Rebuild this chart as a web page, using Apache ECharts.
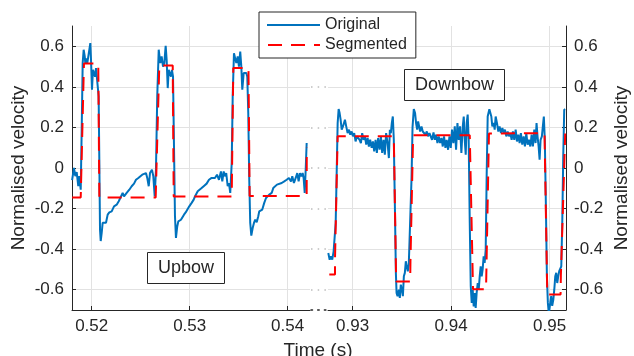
<!DOCTYPE html>
<html>
<head>
<meta charset="utf-8">
<script src="https://cdn.jsdelivr.net/npm/echarts@6/dist/echarts.min.js"></script>
<style>
  html, body { margin: 0; padding: 0; background: #fff; }
  #chart { width: 634px; height: 356px; }
</style>
</head>
<body>
<div id="chart"></div>
<script>
// Upbow section (left panel)
const upbowTime = [0.51800,0.51819,0.51833,0.51847,0.51863,0.51873,0.51888,0.51898,0.51908,0.51918,
  0.51929,0.51935,0.51945,0.51955,0.51965,0.51976,0.51986,0.51993,0.52003,0.52013,
  0.52024,0.52034,0.52044,0.52057,0.52071,0.52078,0.52085,0.52092,0.52102,0.52112,
  0.52129,0.52146,0.52163,0.52180,0.52204,0.52228,0.52255,0.52276,0.52296,0.52316,
  0.52330,0.52357,0.52384,0.52408,0.52432,0.52452,0.52476,0.52493,0.52516,0.52534,
  0.52554,0.52567,0.52582,0.52595,0.52615,0.52629,0.52643,0.52656,0.52669,0.52684,
  0.52690,0.52700,0.52714,0.52728,0.52741,0.52755,0.52765,0.52776,0.52786,0.52799,
  0.52809,0.52819,0.52830,0.52840,0.52850,0.52860,0.52873,0.52884,0.52898,0.52911,
  0.52924,0.52942,0.52959,0.52976,0.52996,0.53020,0.53041,0.53054,0.53071,0.53082,
  0.53098,0.53122,0.53149,0.53173,0.53197,0.53224,0.53241,0.53258,0.53279,0.53299,
  0.53319,0.53333,0.53347,0.53360,0.53373,0.53388,0.53401,0.53414,0.53429,0.53439,
  0.53452,0.53476,0.53490,0.53503,0.53516,0.53527,0.53537,0.53551,0.53564,0.53578,
  0.53588,0.53598,0.53608,0.53618,0.53629,0.53643,0.53656,0.53669,0.53684,0.53700,
  0.53710,0.53724,0.53741,0.53761,0.53779,0.53796,0.53812,0.53837,0.53853,0.53870,
  0.53891,0.53911,0.53939,0.53965,0.53990,0.54013,0.54034,0.54047,0.54064,0.54082,
  0.54098,0.54112,0.54126,0.54139,0.54153,0.54163,0.54174,0.54184,0.54194];
const upbowVel = [-0.06,0.0,-0.04,-0.02,-0.09,-0.04,-0.107,0.19,0.517,0.583,
  0.55,0.517,0.54,0.517,0.525,0.583,0.616,0.533,0.386,0.484,
  0.493,0.45,0.493,0.484,0.353,0.026,-0.304,-0.36,-0.32,-0.27,
  -0.263,-0.27,-0.23,-0.219,-0.214,-0.189,-0.181,-0.164,-0.156,-0.123,
  -0.14,-0.123,-0.107,-0.09,-0.077,-0.058,-0.049,-0.041,-0.033,-0.041,
  -0.025,-0.049,-0.09,-0.025,-0.008,-0.041,-0.14,-0.008,0.353,0.583,
  0.59,0.517,0.55,0.50,0.517,0.602,0.533,0.394,0.484,0.484,
  0.45,0.484,0.45,0.106,-0.238,-0.345,-0.288,-0.263,-0.271,-0.255,
  -0.263,-0.23,-0.219,-0.214,-0.189,-0.172,-0.156,-0.14,-0.148,-0.115,
  -0.123,-0.099,-0.087,-0.077,-0.058,-0.049,-0.041,-0.049,-0.033,-0.058,
  -0.017,-0.066,-0.017,-0.041,-0.025,-0.09,-0.074,-0.123,0.025,0.353,
  0.566,0.517,0.55,0.50,0.574,0.50,0.386,0.468,0.46,0.468,
  0.45,0.271,-0.058,-0.271,-0.333,-0.296,-0.271,-0.255,-0.268,-0.238,
  -0.214,-0.205,-0.205,-0.172,-0.148,-0.156,-0.131,-0.123,-0.099,-0.107,
  -0.082,-0.09,-0.074,-0.066,-0.058,-0.049,-0.066,-0.041,-0.074,-0.049,
  -0.025,-0.066,-0.025,-0.041,-0.025,-0.049,-0.123,-0.008,0.123];
const upbowSegTime = [0.51800,0.51888,0.51921,0.52067,0.52078,0.52653,0.52690,0.52827,
  0.52837,0.53429,0.53445,0.53600,0.53612,0.54194,0.54195];
const upbowSegVel = [-0.145,-0.145,0.515,0.515,-0.145,-0.145,0.505,0.505,
  -0.14,-0.14,0.493,0.493,-0.138,-0.138,0.10];

// Downbow section (right panel)
const downbowTime = [0.92753,0.92767,0.92780,0.92793,0.92807,0.92818,0.92828,0.92838,0.92848,0.92858,
  0.92868,0.92878,0.92889,0.92902,0.92912,0.92922,0.92935,0.92949,0.92963,0.92976,
  0.92990,0.93003,0.93016,0.93030,0.93044,0.93057,0.93071,0.93084,0.93097,0.93111,
  0.93125,0.93138,0.93152,0.93165,0.93178,0.93193,0.93206,0.93219,0.93233,0.93246,
  0.93259,0.93274,0.93287,0.93300,0.93314,0.93327,0.93340,0.93355,0.93368,0.93378,
  0.93388,0.93398,0.93408,0.93418,0.93429,0.93439,0.93446,0.93456,0.93469,0.93479,
  0.93489,0.93500,0.93510,0.93520,0.93530,0.93540,0.93550,0.93560,0.93570,0.93584,
  0.93598,0.93608,0.93621,0.93634,0.93644,0.93655,0.93665,0.93675,0.93685,0.93699,
  0.93712,0.93725,0.93740,0.93753,0.93766,0.93780,0.93793,0.93806,0.93821,0.93834,
  0.93847,0.93861,0.93874,0.93888,0.93902,0.93915,0.93928,0.93942,0.93955,0.93969,
  0.93983,0.93996,0.94009,0.94023,0.94037,0.94050,0.94064,0.94077,0.94090,0.94104,
  0.94118,0.94128,0.94138,0.94148,0.94158,0.94168,0.94178,0.94189,0.94199,0.94209,
  0.94219,0.94229,0.94239,0.94249,0.94259,0.94270,0.94280,0.94290,0.94300,0.94310,
  0.94320,0.94330,0.94340,0.94351,0.94361,0.94371,0.94388,0.94398,0.94408,0.94418,
  0.94432,0.94442,0.94452,0.94465,0.94479,0.94492,0.94506,0.94520,0.94533,0.94546,
  0.94560,0.94574,0.94587,0.94601,0.94614,0.94627,0.94641,0.94655,0.94668,0.94682,
  0.94695,0.94708,0.94722,0.94736,0.94749,0.94763,0.94776,0.94789,0.94804,0.94817,
  0.94830,0.94844,0.94857,0.94867,0.94877,0.94888,0.94898,0.94908,0.94921,0.94931,
  0.94941,0.94951,0.94962,0.94972,0.94982,0.94992,0.95006,0.95016,0.95026,0.95037,
  0.95047,0.95057,0.95067,0.95077,0.95087,0.95097,0.95107,0.95118,0.95128,0.95138,
  0.95148,0.95158];
const downbowVel = [-0.419,-0.452,-0.435,-0.452,-0.411,-0.419,-0.271,-0.025,0.222,0.291,
  0.271,0.238,0.189,0.205,0.197,0.238,0.205,0.172,0.189,0.164,
  0.18,0.156,0.172,0.131,0.156,0.164,0.139,0.123,0.172,0.139,
  0.156,0.115,0.148,0.106,0.139,0.099,0.131,0.082,0.139,0.074,
  0.148,0.09,0.156,0.074,0.139,0.066,0.172,0.123,0.049,0.189,
  0.172,0.222,0.254,0.139,-0.189,-0.517,-0.616,-0.632,-0.6,-0.64,
  -0.575,-0.6,-0.632,-0.534,-0.517,-0.46,-0.485,-0.509,-0.476,-0.468,
  -0.05,0.2,0.29,0.271,0.222,0.189,0.23,0.205,0.18,0.205,
  0.18,0.189,0.164,0.18,0.156,0.172,0.156,0.139,0.175,0.139,
  0.164,0.123,0.156,0.123,0.148,0.106,0.156,0.099,0.139,0.09,
  0.156,0.099,0.189,0.123,0.205,0.09,0.222,0.139,0.205,0.074,
  0.205,0.254,0.139,0.066,0.222,0.263,0.139,-0.271,-0.583,-0.665,
  -0.6,-0.682,-0.616,-0.69,-0.616,-0.567,-0.6,-0.534,-0.485,-0.534,
  -0.5,-0.435,-0.468,-0.402,-0.025,0.254,0.29,0.296,0.254,0.205,
  0.222,0.189,0.254,0.222,0.18,0.205,0.172,0.197,0.172,0.189,
  0.156,0.18,0.156,0.172,0.139,0.18,0.139,0.189,0.131,0.164,
  0.123,0.172,0.115,0.156,0.106,0.172,0.115,0.139,0.106,0.164,
  0.106,0.189,0.123,0.222,0.156,0.106,0.041,0.139,0.156,0.205,
  0.254,0.139,-0.189,-0.534,-0.665,-0.72,-0.665,-0.632,-0.68,-0.65,
  -0.6,-0.534,-0.517,-0.567,-0.534,-0.509,-0.5,-0.485,-0.271,0.057,
  0.287,0.29];
const downbowSegTime = [0.92763,0.92821,0.92821,0.92848,0.93418,0.93442,0.93584,0.93587,0.93614,
  0.94189,0.94222,0.94354,0.94357,0.94384,0.94948,0.94976,0.95111,0.95114,0.95158];
const downbowSegVel = [-0.525,-0.525,-0.45,0.156,0.156,-0.56,-0.56,-0.46,0.161,
  0.161,-0.598,-0.598,-0.53,0.17,0.172,-0.624,-0.624,-0.53,0.17];

const upbowTicks = [0.52, 0.53, 0.54];
const downbowTicks = [0.93, 0.94, 0.95];
const velTicks = [-0.6, -0.4, -0.2, 0, 0.2, 0.4, 0.6];

const FONT = '"Liberation Sans", Arial, Helvetica, sans-serif';
const INK = '#262626';
const GRIDC = '#e2e2e2';
const BLUE = '#0072BD';
const RED = '#FF0000';

function zip(xs, ys) {
    return xs.map((x, i) => [x, ys[i]]);
}

function timeAxis(grid, min, max, ticks) {
    return {
        type: 'value', gridIndex: grid, min: min, max: max,
        axisLine: { show: true, onZero: false, lineStyle: { color: INK, width: 1 } },
        axisTick: { show: true, inside: true, length: 4, customValues: ticks, lineStyle: { color: INK } },
        axisLabel: { customValues: ticks, color: INK, fontSize: 17, fontFamily: FONT, margin: 8,
            formatter: v => v.toFixed(2) },
        splitLine: { show: true, lineStyle: { color: GRIDC, width: 1 } }
    };
}

function velAxis(grid, pos, gap) {
    return {
        type: 'value', gridIndex: grid, position: pos, min: -0.7, max: 0.7,
        name: 'Normalised velocity', nameLocation: 'middle', nameRotate: 90, nameGap: gap,
        nameTextStyle: { color: INK, fontSize: 19, fontFamily: FONT },
        axisLine: { show: true, onZero: false, lineStyle: { color: INK, width: 1 } },
        axisTick: { show: true, inside: true, length: 4, customValues: velTicks, lineStyle: { color: INK } },
        axisLabel: { customValues: velTicks, color: INK, fontSize: 17, fontFamily: FONT, margin: 8,
            formatter: v => String(Math.round(v * 10) / 10) },
        splitLine: { show: true, lineStyle: { color: GRIDC, width: 1 } }
    };
}

function lineSeries(name, axis, data, color, dashed, z) {
    return {
        name: name, type: 'line', xAxisIndex: axis, yAxisIndex: axis,
        data: data, symbol: 'none', showSymbol: false, z: z,
        itemStyle: { color: color },
        lineStyle: { color: color, width: 2, type: dashed ? [14, 9] : 'solid' },
        emphasis: { disabled: true }
    };
}

const chart = echarts.init(document.getElementById('chart'), null, { renderer: 'canvas' });

const option = {
    animation: false,
    backgroundColor: '#fff',
    textStyle: { fontFamily: FONT },
    grid: [
        { left: 72, top: 26, width: 238, height: 284 },
        { left: 328, top: 26, width: 238, height: 284 },
        { left: 310, top: 26, width: 18, height: 284 }
    ],
    xAxis: [
        timeAxis(0, 0.51799, 0.54228, upbowTicks),
        timeAxis(1, 0.92750, 0.95166, downbowTicks),
        {
            // dotted break between the two time windows
            type: 'value', gridIndex: 2, min: 0, max: 1,
            axisLine: { show: true, onZero: false, lineStyle: { color: INK, width: 1.5, type: [1.5, 5.2], dashOffset: -1 } },
            axisTick: { show: false }, axisLabel: { show: false }, splitLine: { show: false }
        }
    ],
    yAxis: [
        velAxis(0, 'left', 44),
        velAxis(1, 'right', 46),
        {
            type: 'value', gridIndex: 2, min: -0.7, max: 0.7,
            axisLine: { show: false },
            axisTick: { show: false, customValues: velTicks },
            axisLabel: { show: false, customValues: velTicks },
            splitLine: { show: true, lineStyle: { color: '#bdbdbd', width: 1.5, type: [1.5, 5.2], dashOffset: -1 } }
        }
    ],
    legend: {
        data: ['Original', 'Segmented'],
        orient: 'vertical', left: 259, top: 12,
        itemWidth: 53, itemHeight: 12, itemGap: 4, itemTextGap: 6,
        padding: [5, 9, 5, 7],
        borderColor: INK, borderWidth: 1, backgroundColor: '#fff',
        itemStyle: { opacity: 0, borderWidth: 0 },
        textStyle: { color: INK, fontSize: 16, fontFamily: FONT },
        selectedMode: false, z: 20
    },
    graphic: [
        { type: 'rect', shape: { x: 147.5, y: 252.5, width: 77, height: 31 },
          style: { fill: '#fff', stroke: INK, lineWidth: 1 }, z: 100 },
        { type: 'text', x: 186, y: 268.5, z: 101,
          style: { text: 'Upbow', fontSize: 18, fontFamily: FONT, fill: INK, align: 'center', verticalAlign: 'middle' } },
        { type: 'rect', shape: { x: 404.5, y: 69.5, width: 100, height: 31 },
          style: { fill: '#fff', stroke: INK, lineWidth: 1 }, z: 100 },
        { type: 'text', x: 454.5, y: 85.5, z: 101,
          style: { text: 'Downbow', fontSize: 18, fontFamily: FONT, fill: INK, align: 'center', verticalAlign: 'middle' } },
        { type: 'text', x: 318, y: 351, z: 101,
          style: { text: 'Time (s)', fontSize: 19, fontFamily: FONT, fill: INK, align: 'center', verticalAlign: 'middle' } }
    ],
    series: [
        lineSeries('Original', 0, zip(upbowTime, upbowVel), BLUE, false, 2),
        lineSeries('Segmented', 0, zip(upbowSegTime, upbowSegVel), RED, true, 3),
        lineSeries('Original', 1, zip(downbowTime, downbowVel), BLUE, false, 2),
        lineSeries('Segmented', 1, zip(downbowSegTime, downbowSegVel), RED, true, 3)
    ]
};

chart.setOption(option);
</script>
</body>
</html>
